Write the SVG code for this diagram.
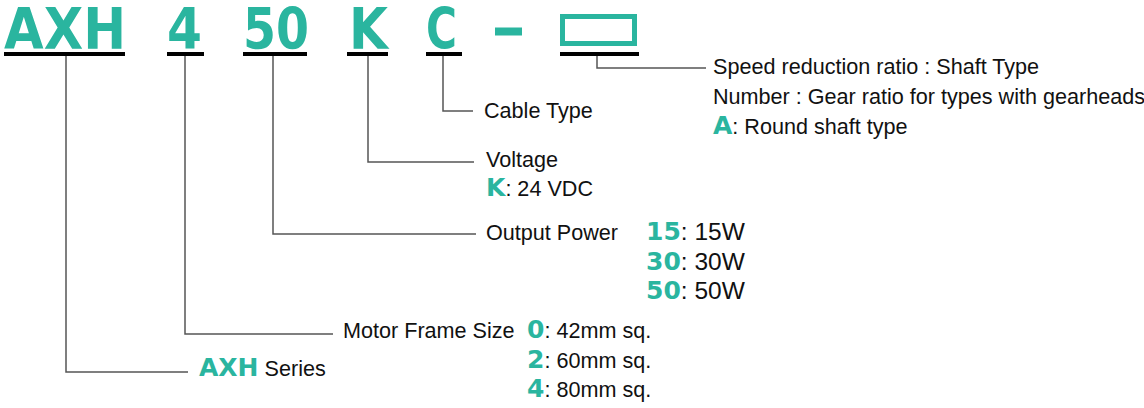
<svg xmlns="http://www.w3.org/2000/svg" width="1144" height="408" viewBox="0 0 1144 408">
<style>
.big{font-family:"DejaVu Sans","Liberation Sans",sans-serif;font-weight:bold;font-size:57px;fill:#2ab59f}
.bar{fill:#000}
.t{font-family:"Liberation Sans",Arial,sans-serif;font-size:21.6px;fill:#111}
.p{font-size:24.5px}
.k{font-family:"DejaVu Sans","Liberation Sans",sans-serif;font-weight:bold;font-size:25px;fill:#2ab59f}
.ln{fill:none;stroke:#555;stroke-width:1.5}
</style>
<rect width="1144" height="408" fill="#fff"/>
<g id="code">
<text class="big" x="4" y="49" textLength="122" lengthAdjust="spacingAndGlyphs">AXH</text>
<text class="big" x="167" y="49" textLength="35" lengthAdjust="spacingAndGlyphs">4</text>
<text class="big" x="243" y="49" textLength="66" lengthAdjust="spacingAndGlyphs">50</text>
<text class="big" x="349" y="49" textLength="39" lengthAdjust="spacingAndGlyphs">K</text>
<text class="big" x="426" y="49" textLength="31" lengthAdjust="spacingAndGlyphs">C</text>
<rect x="495" y="27.5" width="27" height="8" fill="#2ab59f"/>
<rect x="562.5" y="16.5" width="72" height="27" fill="none" stroke="#2ab59f" stroke-width="5"/>
<rect class="bar" x="4" y="52" width="121" height="4"/>
<rect class="bar" x="167" y="52" width="37" height="4"/>
<rect class="bar" x="243" y="52" width="64" height="4"/>
<rect class="bar" x="347" y="52" width="41" height="4"/>
<rect class="bar" x="426" y="52" width="36" height="4"/>
<rect class="bar" x="560" y="52" width="79" height="4"/>
</g>
<g id="connectors">
<polyline class="ln" points="597,56 597,68 706,68"/>
<polyline class="ln" points="443,56 443,111 473,111"/>
<polyline class="ln" points="368,56 368,162 474,162"/>
<polyline class="ln" points="273,56 273,234 476,234"/>
<polyline class="ln" points="185,56 185,334 333,334"/>
<polyline class="ln" points="66,56 66,372 188,372"/>
</g>
<g id="shaft">
<text class="t" x="713" y="74">Speed reduction ratio : Shaft Type</text>
<text class="t" x="713" y="104">Number : Gear ratio for types with gearheads</text>
<text class="t" x="713" y="134"><tspan class="k">A</tspan>: Round shaft type</text>
</g>
<g id="cable">
<text class="t" x="484" y="118">Cable Type</text>
</g>
<g id="voltage">
<text class="t" x="486" y="167">Voltage</text>
<text class="t" x="486" y="196"><tspan class="k">K</tspan>: 24 VDC</text>
</g>
<g id="power">
<text class="t" x="486" y="240">Output Power</text>
<text class="t p" x="646" y="240"><tspan class="k">15</tspan>: 15W</text>
<text class="t p" x="646" y="270"><tspan class="k">30</tspan>: 30W</text>
<text class="t p" x="646" y="299"><tspan class="k">50</tspan>: 50W</text>
</g>
<g id="frame">
<text class="t" x="343" y="338">Motor Frame Size</text>
<text class="t" x="527" y="338"><tspan class="k">0</tspan>: 42mm sq.</text>
<text class="t" x="527" y="368"><tspan class="k">2</tspan>: 60mm sq.</text>
<text class="t" x="527" y="397"><tspan class="k">4</tspan>: 80mm sq.</text>
</g>
<g id="series">
<text class="t" x="199" y="376"><tspan class="k">AXH</tspan> Series</text>
</g>
</svg>
